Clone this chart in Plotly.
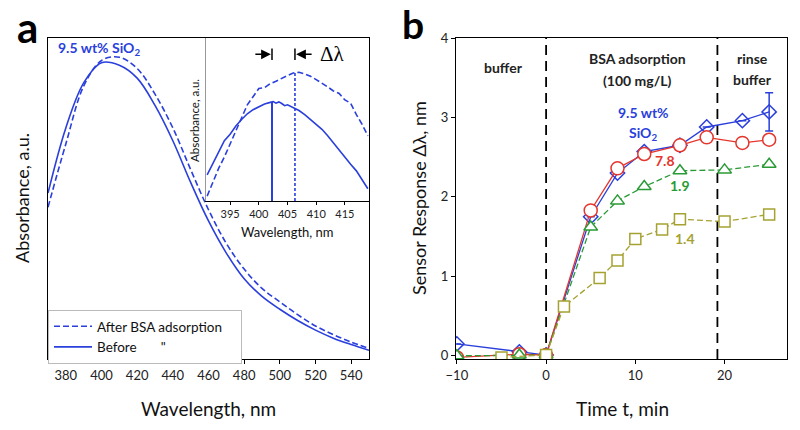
import plotly.graph_objects as go

# ---------------- data: panel a (main spectra) ----------------
wl_main = [370, 380, 390, 400, 410, 420, 430, 440, 450, 460, 470, 480, 490, 500, 510, 520, 530, 540, 550]
abs_before = [0.517, 0.72, 0.86, 0.923, 0.915, 0.875, 0.79, 0.68, 0.55, 0.43, 0.33, 0.25, 0.195, 0.155, 0.12, 0.09, 0.065, 0.045, 0.027]
abs_after = [0.473, 0.67, 0.85, 0.93, 0.94, 0.905, 0.825, 0.72, 0.59, 0.465, 0.36, 0.28, 0.22, 0.178, 0.138, 0.103, 0.076, 0.053, 0.033]
main_ticks = [380, 400, 420, 440, 460, 480, 500, 520, 540]

# ---------------- data: panel a inset ----------------
wl_inset = [391, 392, 393, 394, 395, 396, 397, 398, 399, 400, 401, 402, 402.5, 403, 403.5, 404, 404.5, 405,
            406, 407, 408, 409, 410, 411, 412, 413, 414, 415, 416, 417, 418, 419]
ins_before = [0.16, 0.23, 0.31, 0.37, 0.41, 0.46, 0.50, 0.535, 0.56, 0.58, 0.595, 0.605, 0.61, 0.60, 0.608, 0.598, 0.585, 0.59,
              0.575, 0.555, 0.53, 0.50, 0.47, 0.44, 0.40, 0.355, 0.31, 0.27, 0.225, 0.185, 0.13, 0.075]
wl_inset2 = [391, 392, 393, 394, 395, 396, 397, 398, 399, 400, 401, 402, 403, 404, 405, 406, 407, 408, 409, 410,
             411, 412, 413, 414, 415, 416, 417, 418, 419]
ins_after = [0.03, 0.12, 0.2, 0.27, 0.35, 0.43, 0.52, 0.59, 0.64, 0.69, 0.695, 0.72, 0.735, 0.755, 0.77, 0.785, 0.79, 0.78, 0.765, 0.745,
             0.725, 0.70, 0.675, 0.66, 0.62, 0.60, 0.53, 0.47, 0.40]
inset_ticks = [395, 400, 405, 410, 415]
peak_before, peak_before_val = 402.3, 0.607
peak_after, peak_after_val = 406.3, 0.79

# ---------------- data: panel b ----------------
t_blue = [-10, -3, 0, 5, 8, 11, 15, 18, 22, 25]
v_blue = [0.15, 0.05, 0.01, 1.75, 2.30, 2.57, 2.65, 2.88, 2.96, 3.07]
e_blue = [0, 0, 0, 0, 0, 0, 0, 0, 0, 0.24]
t_red = [-10, -3, 0, 5, 8, 11, 15, 18, 22, 25]
v_red = [-0.02, 0.02, 0.01, 1.83, 2.36, 2.54, 2.65, 2.75, 2.68, 2.72]
t_green = [-10, -3, 0, 5, 8, 11, 15, 20, 25]
v_green = [0.0, 0.01, 0.01, 1.62, 1.95, 2.13, 2.33, 2.34, 2.41]
t_olive = [-5, 0, 2, 6, 8, 10, 13, 15, 20, 25]
v_olive = [-0.02, 0.01, 0.62, 0.98, 1.2, 1.47, 1.59, 1.72, 1.69, 1.78]
phase_bounds = [0, 19.2]
b_xticks = [-10, 0, 10, 20]
b_yticks = [0, 1, 2, 3, 4]

BLUE = "#2a3fdb"
RED = "#e5352c"
GREEN = "#2a9a35"
OLIVE = "#a6a232"
FONT = "Lato"
W, H = 800, 430


def px(x):
    return x / W


def py(y):
    return 1 - y / H


fig = go.Figure()

# panel a main
fig.add_trace(go.Scatter(x=wl_main, y=abs_after, mode="lines", line=dict(color=BLUE, width=1.6, dash="6px,3px", shape="spline"),
                         name="After BSA adsorption" + "\u00a0" * 4, xaxis="x", yaxis="y"))
fig.add_trace(go.Scatter(x=wl_main, y=abs_before, mode="lines", line=dict(color=BLUE, width=1.6, shape="spline"),
                         name="Before" + "\u00a0" * 7 + "\"", xaxis="x", yaxis="y"))

# inset
fig.add_trace(go.Scatter(x=wl_inset2, y=ins_after, mode="lines", line=dict(color=BLUE, width=1.6, dash="6px,3px"),
                         showlegend=False, xaxis="x3", yaxis="y3"))
fig.add_trace(go.Scatter(x=wl_inset, y=ins_before, mode="lines", line=dict(color=BLUE, width=1.6),
                         showlegend=False, xaxis="x3", yaxis="y3"))
fig.add_trace(go.Scatter(x=[peak_before, peak_before], y=[0, peak_before_val], mode="lines", line=dict(color=BLUE, width=2),
                         showlegend=False, xaxis="x3", yaxis="y3"))
fig.add_trace(go.Scatter(x=[peak_after, peak_after], y=[0, peak_after_val], mode="lines", line=dict(color=BLUE, width=1.6, dash="3px,2px"),
                         showlegend=False, xaxis="x3", yaxis="y3"))

# panel b
for pb in phase_bounds:
    fig.add_trace(go.Scatter(x=[pb, pb], y=[-0.04, 4], mode="lines", line=dict(color="black", width=1.8, dash="10px,6px"),
                             showlegend=False, xaxis="x2", yaxis="y2", hoverinfo="skip"))

fig.add_trace(go.Scatter(x=t_blue, y=v_blue, mode="lines+markers", line=dict(color=BLUE, width=1.3),
                         marker=dict(symbol="diamond-open", size=11, color=BLUE, line=dict(width=1.5)),
                         error_y=dict(type="data", array=e_blue, color=BLUE, thickness=1.5, width=4),
                         showlegend=False, xaxis="x2", yaxis="y2"))
fig.add_trace(go.Scatter(x=t_red, y=v_red, mode="lines+markers", line=dict(color=RED, width=1.3),
                         marker=dict(symbol="circle", size=13, color="white", line=dict(width=1.5, color=RED)),
                         showlegend=False, xaxis="x2", yaxis="y2"))
fig.add_trace(go.Scatter(x=t_green, y=v_green, mode="lines+markers", line=dict(color=GREEN, width=1.3, dash="6px,3px"),
                         marker=dict(symbol="triangle-up", size=12, color="white", line=dict(width=1.5, color=GREEN)),
                         showlegend=False, xaxis="x2", yaxis="y2"))
fig.add_trace(go.Scatter(x=t_olive, y=v_olive, mode="lines+markers", line=dict(color=OLIVE, width=1.3, dash="6px,3px"),
                         marker=dict(symbol="square", size=11, color="white", line=dict(width=1.5, color=OLIVE)),
                         showlegend=False, xaxis="x2", yaxis="y2"))

ydom = [py(359), py(38)]
tickfont = dict(family=FONT, size=13, color="#222")
axis_common = dict(showline=True, linecolor="black", linewidth=1.3, showgrid=False, zeroline=False,
                   ticks="outside", ticklen=4, tickcolor="black", tickfont=tickfont, automargin=False)

annotations = []


def ann(x, y, text, size=14, color="black", bold=False, angle=0, family=FONT, **kw):
    if bold:
        text = "<b>" + text + "</b>"
    annotations.append(dict(x=px(x), y=py(y), xref="paper", yref="paper", text=text, showarrow=False,
                            font=dict(family=family, size=size, color=color), textangle=angle,
                            xanchor="center", yanchor="middle", **kw))


# panel labels
ann(27, 27, "a", size=42, bold=True)
ann(413, 24, "b", size=39, bold=True)
# axis titles
ann(208, 408, "Wavelength, nm", size=19, color="#111")
ann(22, 198, "Absorbance, a.u.", size=18, color="#111", angle=-90)
ann(622, 408, "Time t, min", size=19, color="#111")
ann(419, 198, "Sensor Response \u0394\u03bb, nm", size=18, color="#111", angle=-90)
# inset titles
ann(287, 232, "Wavelength, nm", size=13, color="#111")
ann(194, 121, "Absorbance, a.u.", size=11.5, color="#111", angle=-90)
ann(332, 54, "\u0394\u03bb", size=21, family="Liberation Serif")
# panel a label
ann(99, 48, "9.5 wt% SiO<sub>2</sub>", size=14, color=BLUE, bold=True)
# panel b texts
ann(503, 68, "buffer", size=14, color="#222", bold=True)
ann(637, 59, "BSA adsorption", size=14, color="#222", bold=True)
ann(637, 80, "(100 mg/L)", size=14, color="#222", bold=True)
ann(752, 58, "rinse", size=14, color="#222", bold=True)
ann(752, 79, "buffer", size=14, color="#222", bold=True)
ann(643, 113, "9.5 wt%", size=14, color=BLUE, bold=True)
ann(643, 133, "SiO<sub>2</sub>", size=14, color=BLUE, bold=True)
ann(665, 160, "7.8", size=14, color=RED, bold=True)
ann(680, 185, "1.9", size=14, color=GREEN, bold=True)
ann(685, 238, "1.4", size=14, color=OLIVE, bold=True)

# inset arrows
annotations.append(dict(x=peak_before - 0.2, y=0.9, xref="x3", yref="y3", ax=-17, ay=0, text="", showarrow=True,
                        arrowhead=2, arrowsize=1.3, arrowwidth=1.5, arrowcolor="black"))
annotations.append(dict(x=peak_after + 0.2, y=0.9, xref="x3", yref="y3", ax=17, ay=0, text="", showarrow=True,
                        arrowhead=2, arrowsize=1.3, arrowwidth=1.5, arrowcolor="black"))

shapes = [
    dict(type="line", xref="x3", yref="y3", x0=peak_before, x1=peak_before, y0=0.865, y1=0.935, line=dict(color="black", width=1.5)),
    dict(type="line", xref="x3", yref="y3", x0=peak_after, x1=peak_after, y0=0.865, y1=0.935, line=dict(color="black", width=1.5)),
]

fig.update_layout(
    width=W, height=H, margin=dict(l=0, r=0, t=0, b=0, pad=0, autoexpand=False),
    paper_bgcolor="white", plot_bgcolor="white",
    font=dict(family=FONT, color="#111"),
    xaxis=dict(domain=[px(48), px(369)], range=[370, 550], tickvals=main_ticks, anchor="y", mirror=True, **axis_common),
    yaxis=dict(domain=ydom, range=[0, 1], showticklabels=False, anchor="x", showline=True, linecolor="black",
               linewidth=1.3, mirror=True, showgrid=False, zeroline=False, ticks=""),
    xaxis2=dict(domain=[px(456), px(787)], range=[-10.1, 27], tickvals=b_xticks, anchor="y2", mirror=True, **axis_common),
    yaxis2=dict(domain=ydom, range=[-0.04, 4], tickvals=b_yticks, anchor="x2", mirror=True, **axis_common),
    xaxis3=dict(domain=[px(206), px(369)], range=[390.8, 419.2], tickvals=inset_ticks, anchor="y3",
                showline=True, linecolor="black", linewidth=1.2, showgrid=False, zeroline=False,
                ticks="outside", ticklen=3, tickcolor="black", tickfont=dict(family=FONT, size=11, color="#222")),
    yaxis3=dict(domain=[py(201), py(38)], range=[0, 1], anchor="x3", showticklabels=False, showline=True,
                linecolor="#999", linewidth=1.2, showgrid=False, zeroline=False, ticks=""),
    legend=dict(x=px(48), y=py(310), xanchor="left", yanchor="top", bgcolor="white", bordercolor="#bbb", borderwidth=1,
                font=dict(family=FONT, size=13.5, color="#111"), tracegroupgap=0, itemwidth=38),
    annotations=annotations, shapes=shapes,
)

fig.write_html("out.html", config={"displayModeBar": False},
               post_script="document.body.style.margin='0';document.body.style.overflow='hidden';")
